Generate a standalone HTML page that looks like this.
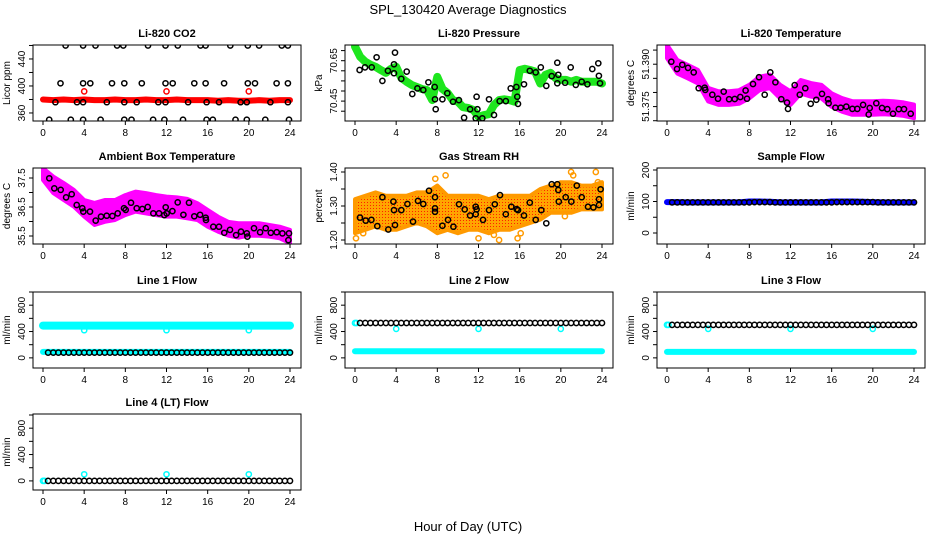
<!DOCTYPE html>
<html><head><meta charset="utf-8"><title>SPL_130420 Average Diagnostics</title>
<style>
html,body{margin:0;padding:0;background:#fff;}
svg{display:block;font-family:"Liberation Sans",Arial,sans-serif;}
</style></head>
<body>
<svg id="chart" xmlns="http://www.w3.org/2000/svg" width="936" height="540" viewBox="0 0 936 540">
<defs>
<pattern id="rhdots" width="3" height="3" patternUnits="userSpaceOnUse"><rect width="3" height="3" fill="#ffa500"/><rect x="1" y="1" width="1" height="1" fill="#ff2000"/></pattern>
</defs>
<text x="468" y="14" text-anchor="middle" font-size="13">SPL_130420  Average Diagnostics</text>
<text x="468" y="531" text-anchor="middle" font-size="13">Hour of Day (UTC)</text>
</svg>
<script>
// ---------- data ----------
const HOURS = [0,1,2,3,4,5,6,7,8,9,10,11,12,13,14,15,16,17,18,19,20,21,22,23,24];
const HALF0 = [0,0.5,1,1.5,2,2.5,3,3.5,4,4.5,5,5.5,6,6.5,7,7.5,8,8.5,9,9.5,10,10.5,11,11.5,12,12.5,13,13.5,14,14.5,15,15.5,16,16.5,17,17.5,18,18.5,19,19.5,20,20.5,21,21.5,22,22.5,23,23.5,24];
const HALF = [0.5,1,1.5,2,2.5,3,3.5,4,4.5,5,5.5,6,6.5,7,7.5,8,8.5,9,9.5,10,10.5,11,11.5,12,12.5,13,13.5,14,14.5,15,15.5,16,16.5,17,17.5,18,18.5,19,19.5,20,20.5,21,21.5,22,22.5,23,23.5,24];
const X_TICKS = [0,4,8,12,16,20,24];

const co2Hours = [2.2,3.9,5.1,7.2,7.8,10.2,11.9,13.1,15.3,15.8,18.2,19.9,21.0,23.2,23.8, 1.7,3.9,4.6,6.7,7.9,9.6,11.9,12.6,14.7,15.8,17.6,19.9,20.6,22.7,23.8, 1.2,3.3,3.9,6.2,7.9,9.1,11.2,11.9,14.1,15.9,17.1,19.2,19.8,22.1,23.8, 0.6,2.7,3.9,5.6,7.9,8.6,10.7,11.8,13.6,15.9,16.5,18.7,19.8,21.6,23.9];
const co2Black = [460,460,460,460,460,460,460,460,460,460,460,460,460,460,460, 404,404,404,404,404,404,404,404,404,404,404,404,404,404,404, 376,376,376,376,376,376,376,376,376,376,376,376,376,376,376, 350,350,350,350,350,350,350,350,350,350,350,350,350,350,350];
const co2Red = [380,379,380,379,380,379,379,380,379,379,380,379,379,380,379,379,379,378,379,378,378,379,378,379,379];
const outHours = [4,12,20];
const co2RedOut = [392,392,392];

const presGreen = [70.72,70.67,70.645,70.63,70.62,70.604,70.59,70.61,70.62,70.565,70.546,70.53,70.52,70.51,70.505,70.455,70.57,70.51,70.49,70.455,70.447,70.42,70.416,70.406,70.373,70.38,70.385,70.43,70.455,70.459,70.455,70.447,70.604,70.61,70.604,70.596,70.537,70.58,70.59,70.563,70.555,70.555,70.546,70.555,70.546,70.546,70.546,70.546,70.537];
const presHours = [0.45,0.97,1.62,2.1,2.66,3.2,3.79,3.79,3.89,4.5,5.02,5.57,6.06,6.64,7.13,7.74,7.77,7.84,8.49,8.97,9.52,10.1,10.6,11.18,11.73,11.82,11.89,12.37,13.02,13.51,14.06,14.65,15.13,15.68,15.77,15.84,16.42,16.98,17.56,18.05,18.59,19.11,19.66,19.66,19.75,20.41,20.96,21.45,22.03,22.58,23.06,23.64,23.7,23.81];
const presBlack = [70.604,70.617,70.617,70.667,70.55,70.60,70.632,70.588,70.69,70.56,70.596,70.485,70.513,70.505,70.543,70.52,70.459,70.41,70.459,70.489,70.447,70.455,70.368,70.41,70.365,70.472,70.41,70.365,70.459,70.381,70.45,70.45,70.513,70.52,70.472,70.436,70.533,70.60,70.592,70.617,70.525,70.574,70.64,70.538,70.58,70.541,70.617,70.53,70.546,70.533,70.609,70.637,70.575,70.538];

const ltMagenta = [51.3945,51.3891,51.3874,51.3856,51.3792,51.3780,51.3780,51.3784,51.3803,51.3832,51.3839,51.3803,51.3780,51.3820,51.3809,51.3803,51.3773,51.3756,51.3745,51.3745,51.3745,51.3747,51.3745,51.3741,51.3733];
const ltHours = [0.42,0.97,1.49,2.04,2.59,3.08,3.66,3.72,4.4,4.96,5.51,6.03,6.58,7.12,7.64,7.77,8.36,8.94,9.49,10.04,10.53,11.11,11.66,11.76,12.41,12.9,13.44,13.96,14.51,15.06,15.65,15.7,16.36,16.88,17.42,18.01,18.49,19.05,19.6,19.7,20.34,20.89,21.41,21.96,22.52,23.03,23.68];
const ltBlack = [51.3909,51.3883,51.3898,51.3887,51.3871,51.3815,51.3817,51.3809,51.3792,51.3778,51.3803,51.3776,51.3777,51.3784,51.3807,51.3778,51.3830,51.3854,51.3792,51.3871,51.3836,51.3776,51.3764,51.3742,51.3826,51.3792,51.3815,51.3760,51.3774,51.3795,51.3776,51.3762,51.3746,51.3746,51.3750,51.3742,51.3742,51.3756,51.3722,51.3745,51.3762,51.3745,51.3741,51.3725,51.3741,51.3741,51.3725];

const abUpper = [37.84,37.55,37.33,37.09,36.74,36.64,36.74,36.74,36.91,37.03,36.98,36.91,36.86,36.83,36.78,36.63,36.40,36.17,35.99,35.94,35.94,35.94,35.88,35.82,35.71];
const abLower = [37.43,36.98,36.74,36.51,36.17,35.88,35.99,36.05,36.22,36.34,36.28,36.22,36.17,36.17,36.11,36.05,35.82,35.65,35.51,35.44,35.51,35.51,35.48,35.42,35.25];
const abHours = [0.61,1.1,1.72,2.24,2.79,3.27,3.82,3.92,4.57,5.12,5.64,6.19,6.74,7.26,7.87,8.04,8.55,9.1,9.65,10.17,10.72,11.27,11.79,11.92,12.02,12.57,13.09,13.64,14.19,14.7,15.26,15.81,15.84,16.55,17.1,17.62,18.17,18.76,19.24,19.8,19.86,20.5,21.09,21.64,22.13,22.71,23.26,23.84,23.9];
const abBlack = [37.49,37.14,37.09,36.83,36.94,36.57,36.46,36.34,36.34,36.03,36.17,36.2,36.19,36.28,36.46,36.40,36.65,36.46,36.43,36.5,36.28,36.28,36.22,36.49,36.28,36.36,36.66,36.23,36.65,36.18,36.23,36.13,36.05,35.82,35.82,35.61,35.71,35.53,35.65,35.59,35.48,35.77,35.63,35.77,35.61,35.63,35.59,35.36,35.59];

const rhUpper = [1.32,1.33,1.34,1.33,1.33,1.33,1.34,1.34,1.36,1.33,1.33,1.33,1.33,1.32,1.33,1.33,1.33,1.33,1.35,1.36,1.37,1.37,1.36,1.36,1.37];
const rhLower = [1.22,1.23,1.24,1.23,1.23,1.24,1.25,1.24,1.22,1.23,1.22,1.23,1.23,1.22,1.23,1.23,1.24,1.25,1.26,1.28,1.28,1.28,1.29,1.29,1.29];
const rhOutHours = [0.1,0.8,7.8,8.8,12.0,13.5,14.0,15.8,16.1,20.4,21.0,21.2,23.4,23.6];
const rhOutVals = [1.205,1.22,1.38,1.39,1.205,1.215,1.20,1.205,1.22,1.27,1.40,1.39,1.40,1.37];
const rhHours = [0.49,1.04,1.59,2.17,2.66,3.24,3.73,3.79,3.89,4.5,5.09,5.64,6.12,6.64,7.19,7.77,7.77,7.77,8.49,9.04,9.56,10.11,10.66,11.18,11.73,11.73,11.82,12.44,13.02,13.58,14.09,14.65,15.19,15.71,15.84,16.42,16.98,17.56,18.1,18.59,19.11,19.66,19.75,19.8,20.47,21.02,21.55,22.03,22.64,23.16,23.71,23.71,23.86];
const rhBlack = [1.266,1.257,1.259,1.241,1.326,1.231,1.313,1.288,1.244,1.288,1.306,1.254,1.315,1.306,1.345,1.326,1.293,1.283,1.242,1.259,1.239,1.305,1.290,1.272,1.298,1.276,1.290,1.259,1.288,1.305,1.332,1.276,1.298,1.291,1.288,1.272,1.310,1.259,1.288,1.249,1.364,1.364,1.347,1.313,1.326,1.313,1.360,1.326,1.298,1.296,1.320,1.303,1.349];

const sfBlue = [98,98,97,97,97,97,97,97,100,100,99,97,97,97,97,97,100,100,100,99,98,97,97,97,97];
const sfBlack = [97,97,97,97,97,97,97,97,97,97,97,97,97,97,97,97,98,98,98,98,97,97,97,97,97,97,97,97,97,97,97,97,98,98,98,98,98,98,98,98,97,97,97,97,97,97,97,97];

const l1CyanHi = [490,490,490,490,490,490,490,490,490,490,490,490,490,490,490,490,490,490,490,490,490,490,490,490,490];
const l1CyanLo = [90,90,90,90,90,90,90,90,90,90,90,90,90,90,90,90,90,90,90,90,90,90,90,90,90];
const l1CyanOut = [420,420,420];
const l1Black = [80,80,80,80,80,80,80,80,80,80,80,80,80,80,80,80,80,80,80,80,80,80,80,80,80,80,80,80,80,80,80,80,80,80,80,80,80,80,80,80,80,80,80,80,80,80,80,80];

const l2CyanLo = [100,100,100,100,100,100,100,100,100,100,100,100,100,100,100,100,100,100,100,100,100,100,100,100,100];
const l2CyanOut = [440,440,440];
const l2Black = [530,530,530,530,530,530,530,530,530,530,530,530,530,530,530,530,530,530,530,530,530,530,530,530,530,530,530,530,530,530,530,530,530,530,530,530,530,530,530,530,530,530,530,530,530,530,530,530];

const l3CyanLo = [90,90,90,90,90,90,90,90,90,90,90,90,90,90,90,90,90,90,90,90,90,90,90,90,90];
const l3CyanOut = [440,440,440];
const l3Black = [500,500,500,500,500,500,500,500,500,500,500,500,500,500,500,500,500,500,500,500,500,500,500,500,500,500,500,500,500,500,500,500,500,500,500,500,500,500,500,500,500,500,500,500,500,500,500,500];

const l4CyanOut = [100,100,100];
const l4Black = [0,0,0,0,0,0,0,0,0,0,0,0,0,0,0,0,0,0,0,0,0,0,0,0,0,0,0,0,0,0,0,0,0,0,0,0,0,0,0,0,0,0,0,0,0,0,0,0];
const startHours = [0,0.15];

// ---------- layout ----------
const NS = 'http://www.w3.org/2000/svg';
const svg = document.getElementById('chart');
const COL_LEFT = [33,345,657];
const ROW_TOP = [45,168,292,414];
const BOX_W = 268, BOX_H = 76;

function mk(tag, attrs, parent){
  const e = document.createElementNS(NS, tag);
  for (const k in attrs) e.setAttribute(k, attrs[k]);
  parent.appendChild(e);
  return e;
}

const panels = [
 {key:'co2', col:0,row:0,title:'Li-820 CO2', ylab:'Licor ppm', dom:[348.1,460.7], ticks:[360,380,400,420,440,460], labels:[[360,'360'],[400,'400'],[440,'440']]},
 {key:'pressure', col:1,row:0,title:'Li-820 Pressure', ylab:'kPa', dom:[70.3515,70.7277], ticks:[70.40,70.45,70.50,70.55,70.60,70.65,70.70], labels:[[70.45,'70.45'],[70.65,'70.65']]},
 {key:'li-temp', col:2,row:0,title:'Li-820 Temperature', ylab:'degrees C', dom:[51.3699,51.3968], ticks:[51.370,51.375,51.380,51.385,51.390,51.395], labels:[[51.375,'51.375'],[51.390,'51.390']]},
 {key:'ambient', col:0,row:1,title:'Ambient Box Temperature', ylab:'degrees C', dom:[35.224,37.845], ticks:[35.5,36,36.5,37,37.5], labels:[[35.5,'35.5'],[36.5,'36.5'],[37.5,'37.5']]},
 {key:'rh', col:1,row:1,title:'Gas Stream RH', ylab:'percent', dom:[1.1882,1.4118], ticks:[1.20,1.25,1.30,1.35,1.40], labels:[[1.20,'1.20'],[1.30,'1.30'],[1.40,'1.40']]},
 {key:'sample-flow', col:2,row:1,title:'Sample Flow', ylab:'ml/min', dom:[-34.9,206.3], ticks:[0,50,100,150,200], labels:[[0,'0'],[100,'100'],[200,'200']]},
 {key:'line1', col:0,row:2,title:'Line 1 Flow', ylab:'ml/min', dom:[-153.8,1000], ticks:[0,200,400,600,800,1000], labels:[[0,'0'],[400,'400'],[800,'800']]},
 {key:'line2', col:1,row:2,title:'Line 2 Flow', ylab:'ml/min', dom:[-153.8,1000], ticks:[0,200,400,600,800,1000], labels:[[0,'0'],[400,'400'],[800,'800']]},
 {key:'line3', col:2,row:2,title:'Line 3 Flow', ylab:'ml/min', dom:[-153.8,1000], ticks:[0,200,400,600,800,1000], labels:[[0,'0'],[400,'400'],[800,'800']]},
 {key:'line4', col:0,row:3,title:'Line 4 (LT) Flow', ylab:'ml/min', dom:[-138,1015], ticks:[0,200,400,600,800,1000], labels:[[0,'0'],[400,'400'],[800,'800']]}
];

function xs(p, h){ return COL_LEFT[p.col] + 10 + h * (247/24); }
function ys(p, v){ const t = ROW_TOP[p.row]; return t + BOX_H * (p.dom[1] - v) / (p.dom[1] - p.dom[0]); }

function points(g, p, hs, vs, color, name, r){
  const grp = mk('g', {fill:'none', stroke:color, 'stroke-width':1.5}, g);
  
  
  for (let i = 0; i < vs.length; i++){
    const c = mk('circle', {cx:xs(p,hs[i]).toFixed(1), cy:ys(p,vs[i]).toFixed(1), r:r||2.6}, grp);
    
    
  }
}
function thickLine(g, p, hs, vs, color, w, name){
  const d = hs.map((h,i)=>xs(p,h).toFixed(1)+','+ys(p,vs[i]).toFixed(1)).join(' ');
  const pl = mk('polyline', {points:d, fill:'none', stroke:color, 'stroke-width':w, 'stroke-linejoin':'round', 'stroke-linecap':'round'}, g);
  
  
}
function band(g, p, hs, lo, hi, fill, name){
  const up = hs.map((h,i)=>xs(p,h).toFixed(1)+','+ys(p,hi[i]).toFixed(1));
  const dn = hs.map((h,i)=>xs(p,h).toFixed(1)+','+ys(p,lo[i]).toFixed(1)).reverse();
  const pg = mk('polygon', {points:up.concat(dn).join(' '), fill:fill, stroke:fill==='url(#rhdots)'?'#ff9a00':fill, 'stroke-width':4, 'stroke-linejoin':'round'}, g);
  
  
}

panels.forEach(p => {
  const L = COL_LEFT[p.col], T = ROW_TOP[p.row];
  const g = mk('g', {}, svg);
  
  

  const cp = mk('clipPath', {id:'clip-'+p.key}, g);
  mk('rect', {x:L, y:T, width:BOX_W, height:BOX_H}, cp);
  const plot = mk('g', {'clip-path':'url(#clip-'+p.key+')'}, g);
  
  

  // series
  if (p.key === 'co2'){
    thickLine(plot, p, HOURS, co2Red, '#ff0000', 6, 'co2-red-series');
    points(plot, p, outHours, co2RedOut, '#ff0000', 'co2-red-outliers');
    points(plot, p, co2Hours, co2Black, '#000', 'co2-black-series');
  } else if (p.key === 'pressure'){
    thickLine(plot, p, HALF0, presGreen, '#1ee61e', 8, 'pressure-green-series');
    points(plot, p, presHours, presBlack, '#000', 'pressure-black-series');
  } else if (p.key === 'li-temp'){
    const hi = ltMagenta.map(v=>v+0.0024), lo = ltMagenta.map(v=>v-0.0024);
    band(plot, p, HOURS, lo, hi, '#ff00ff', 'li-temp-magenta-series');
    points(plot, p, ltHours, ltBlack, '#000', 'li-temp-black-series');
  } else if (p.key === 'ambient'){
    band(plot, p, HOURS, abLower, abUpper, '#ff00ff', 'ambient-magenta-series');
    points(plot, p, abHours, abBlack, '#000', 'ambient-black-series');
  } else if (p.key === 'rh'){
    band(plot, p, HOURS, rhLower, rhUpper, 'url(#rhdots)', 'rh-orange-series');
    points(plot, p, rhOutHours, rhOutVals, '#ff9a00', 'rh-orange-outliers');
    points(plot, p, rhHours, rhBlack, '#000', 'rh-black-series');
  } else if (p.key === 'sample-flow'){
    thickLine(plot, p, HOURS, sfBlue, '#0000ff', 6, 'sample-flow-blue-series');
    points(plot, p, HALF, sfBlack, '#000', 'sample-flow-black-series');
  } else if (p.key === 'line1'){
    thickLine(plot, p, HOURS, l1CyanHi, '#00ffff', 8, 'line1-cyan-high');
    thickLine(plot, p, HOURS, l1CyanLo, '#00ffff', 6, 'line1-cyan-low');
    points(plot, p, outHours, l1CyanOut, '#00ffff', 'line1-cyan-outliers');
    points(plot, p, HALF, l1Black, '#000', 'line1-black-series');
  } else if (p.key === 'line2'){
    thickLine(plot, p, HOURS, l2CyanLo, '#00ffff', 6, 'line2-cyan-low');
    points(plot, p, startHours, [530,530], '#00ffff', 'line2-cyan-start');
    points(plot, p, outHours, l2CyanOut, '#00ffff', 'line2-cyan-outliers');
    points(plot, p, HALF, l2Black, '#000', 'line2-black-series');
  } else if (p.key === 'line3'){
    thickLine(plot, p, HOURS, l3CyanLo, '#00ffff', 6, 'line3-cyan-low');
    points(plot, p, startHours, [500,500], '#00ffff', 'line3-cyan-start');
    points(plot, p, outHours, l3CyanOut, '#00ffff', 'line3-cyan-outliers');
    points(plot, p, HALF, l3Black, '#000', 'line3-black-series');
  } else if (p.key === 'line4'){
    points(plot, p, startHours, [0,0], '#00ffff', 'line4-cyan-start');
    points(plot, p, outHours, l4CyanOut, '#00ffff', 'line4-cyan-outliers');
    points(plot, p, HALF, l4Black, '#000', 'line4-black-series');
  }

  // frame
  const fr = mk('rect', {x:L, y:T, width:BOX_W, height:BOX_H, fill:'none', stroke:'#000', 'stroke-width':1}, g);
  
  

  // title
  const tt = mk('text', {x:L+BOX_W/2, y:T-8, 'text-anchor':'middle', 'font-size':11, 'font-weight':'bold'}, g);
  tt.textContent = p.title;
  
  

  // y label
  const yl = mk('text', {x:0, y:0, 'text-anchor':'middle', 'font-size':10, transform:'translate('+(L-23)+','+(T+BOX_H/2)+') rotate(-90)'}, g);
  yl.textContent = p.ylab;
  
  

  // y axis
  const ya = mk('g', {stroke:'#000', 'stroke-width':1}, g);
  
  
  const y0 = ys(p, p.ticks[0]), y1 = ys(p, p.ticks[p.ticks.length-1]);
  mk('line', {x1:L, x2:L, y1:y0, y2:y1}, ya);
  p.ticks.forEach(v => { const y = ys(p,v); mk('line', {x1:L-4, x2:L, y1:y, y2:y}, ya); });
  p.labels.forEach(([v,s]) => {
    const t = mk('text', {x:0, y:0, 'text-anchor':'middle', 'font-size':10, stroke:'none', transform:'translate('+(L-8)+','+ys(p,v).toFixed(1)+') rotate(-90)'}, ya);
    t.textContent = s;
    
    
  });

  // x axis
  const xa = mk('g', {stroke:'#000', 'stroke-width':1}, g);
  
  
  const B = T + BOX_H;
  mk('line', {x1:xs(p,0), x2:xs(p,24), y1:B, y2:B}, xa);
  X_TICKS.forEach(h => {
    const x = xs(p,h);
    mk('line', {x1:x, x2:x, y1:B, y2:B+4}, xa);
    const t = mk('text', {x:x, y:B+15, 'text-anchor':'middle', 'font-size':10, stroke:'none'}, xa);
    t.textContent = String(h);
    
    
  });
});
</script>
</body></html>
